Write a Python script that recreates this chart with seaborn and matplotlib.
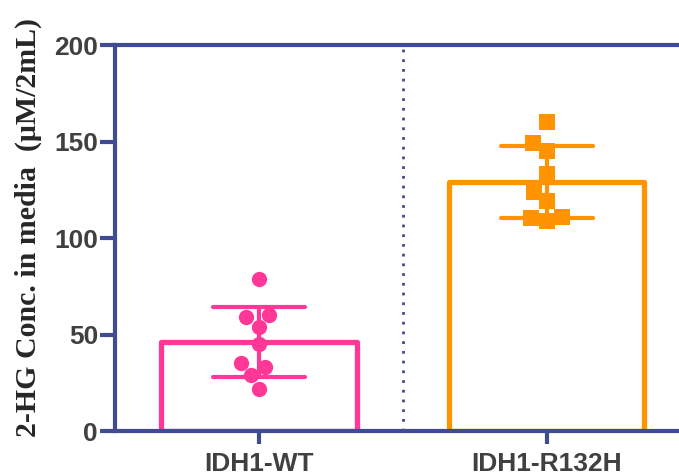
import matplotlib
matplotlib.use("Agg")
import matplotlib.pyplot as plt
import seaborn as sns
import pandas as pd
import numpy as np

categories = ["IDH1-WT", "IDH1-R132H"]
wt_values = [79, 60, 59, 54, 45, 35, 33, 29, 22]
mut_values = [160, 149, 145, 133, 124, 119, 111, 110.5, 109]
yticks = [0, 50, 100, 150, 200]

df = pd.DataFrame({
    "group": [categories[0]] * len(wt_values) + [categories[1]] * len(mut_values),
    "value": wt_values + mut_values,
})

sns.set_style("white")
plt.rcParams["font.family"] = ["Liberation Sans", "DejaVu Sans"]

navy = "#3F4B93"
pink = "#FF3796"
orange = "#FF9400"
palette = {categories[0]: pink, categories[1]: orange}

fig = plt.figure(figsize=(6.79, 4.75), dpi=100)
ax = fig.add_axes([0.169, 0.0926, 0.831, 0.8126])

sns.barplot(data=df, x="group", y="value", hue="group", palette=palette,
            order=categories, errorbar="sd", fill=False, width=0.68,
            linewidth=3.8, capsize=0.32,
            err_kws={"linewidth": 3, "solid_capstyle": "round"}, ax=ax,
            legend=False)
for patch, c in zip(ax.patches, [pink, orange]):
    patch.set_edgecolor(c)
    patch.set_joinstyle("round")

sns.swarmplot(data=df[df.group == categories[0]], x="group", y="value",
              order=categories, color=pink, size=11, marker="o", ax=ax,
              linewidth=0)
sns.swarmplot(data=df[df.group == categories[1]], x="group", y="value",
              order=categories, color=orange, size=11, marker="s", ax=ax,
              linewidth=0)

ax.axvline(0.5, ymin=0, ymax=1, color=navy, linestyle=(0, (1, 2.5)), linewidth=2)

ax.set_ylim(0, 200)
ax.set_xlim(-0.5, 1.46)
ax.set_yticks(yticks)
ax.set_xlabel("")
ax.set_ylabel("2-HG Conc. in media  (\u03bcM/2mL)", family=["Liberation Serif", "DejaVu Serif"],
              fontsize=21.5, fontweight="bold")
ax.yaxis.set_label_coords(-0.129, 0.528)

for s in ["left", "top", "bottom"]:
    ax.spines[s].set_visible(True)
    ax.spines[s].set_color(navy)
    ax.spines[s].set_linewidth(3)
    ax.spines[s].set_zorder(10)
ax.spines["right"].set_visible(False)

ax.tick_params(axis="y", direction="out", length=11, width=3, color=navy,
               labelsize=19, labelcolor="#404040", left=True, pad=1)
ax.tick_params(axis="x", direction="out", length=9, width=3, color=navy,
               labelsize=19, labelcolor="#404040", bottom=True, pad=6)
for lbl in ax.get_xticklabels() + ax.get_yticklabels():
    lbl.set_fontweight("bold")

fig.savefig("out.png", dpi=100)
